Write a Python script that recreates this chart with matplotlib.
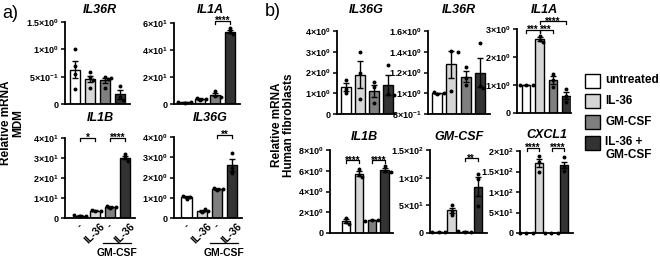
import matplotlib
matplotlib.use("Agg")
import matplotlib.pyplot as plt
from matplotlib.patches import Rectangle
from matplotlib.transforms import blended_transform_factory
import numpy as np

plt.rcParams['font.family'] = ['Liberation Sans', 'DejaVu Sans']
plt.rcParams['mathtext.fontset'] = 'custom'
plt.rcParams['mathtext.rm'] = 'Liberation Sans:bold'
plt.rcParams['mathtext.bf'] = 'Liberation Sans:bold'
plt.rcParams['mathtext.it'] = 'Liberation Sans:bold:italic'

# ---------------- data ----------------
groups = ["untreated", "IL-36", "GM-CSF", "IL-36 +\nGM-CSF"]
colors = ["#ffffff", "#d6d6d6", "#7f7f7f", "#333333"]
xlabels_a = ["-", "IL-36", "-", "IL-36"]

# panel a (MDM)
il36r_a_mean = [0.63, 0.46, 0.43, 0.18]
il36r_a_sem = [0.15, 0.06, 0.045, 0.08]
il36r_a_pts = [[1.0, 0.70, 0.54, 0.28], [0.58, 0.50, 0.44, 0.30], [0.49, 0.48, 0.45, 0.30], [0.33, 0.12, 0.08]]
il36r_a_ticks = [0, 0.5, 1.0, 1.5]
il36r_a_labels = ["0", "5×10$^{-1}$", "1×10$^{0}$", "1.5×10$^{0}$"]

il1a_a_mean = [1.3, 3.8, 7.0, 53.5]
il1a_a_sem = [0.3, 0.6, 1.2, 1.2]
il1a_a_pts = [[1.0, 1.4, 1.5], [3.0, 3.8, 4.6], [9.5, 6.0, 5.5], [56, 53, 52]]
il1a_a_ticks = [0, 20, 40, 60]
il1a_a_labels = ["0", "2×10$^{1}$", "4×10$^{1}$", "6×10$^{1}$"]

il1b_a_mean = [1.2, 3.7, 5.4, 30.2]
il1b_a_sem = [0.2, 0.3, 0.4, 0.9]
il1b_a_pts = [[1.0, 1.2, 1.4], [3.4, 3.7, 4.0], [5.0, 5.5, 5.8], [32, 30, 28.7]]
il1b_a_ticks = [0, 10, 20, 30, 40]
il1b_a_labels = ["0", "1×10$^{1}$", "2×10$^{1}$", "3×10$^{1}$", "4×10$^{1}$"]

il36g_a_mean = [1.02, 0.36, 1.43, 2.62]
il36g_a_sem = [0.05, 0.05, 0.03, 0.3]
il36g_a_pts = [[0.95, 1.05, 1.07], [0.30, 0.35, 0.42], [1.40, 1.43, 1.46], [3.2, 2.45, 2.2]]
il36g_a_ticks = [0, 1, 2, 3, 4]
il36g_a_labels = ["0", "1×10$^{0}$", "2×10$^{0}$", "3×10$^{0}$", "4×10$^{0}$"]

# panel b (human fibroblasts)
il36g_b_mean = [1.29, 1.90, 1.12, 1.41]
il36g_b_sem = [0.19, 0.67, 0.30, 0.49]
il36g_b_pts = [[1.65, 1.22, 1.0], [3.0, 2.0, 0.7], [1.53, 1.30, 0.55], [2.37, 0.95, 0.9]]
il36g_b_ticks = [0, 1, 2, 3, 4]
il36g_b_labels = ["0", "1×10$^{0}$", "2×10$^{0}$", "3×10$^{0}$", "4×10$^{0}$"]

il36r_b_mean = [1.0, 1.28, 1.16, 1.20]
il36r_b_sem = [0.005, 0.13, 0.05, 0.14]
il36r_b_pts = [[0.99, 1.0, 1.01], [1.41, 1.40, 1.02], [1.25, 1.15, 1.08], [1.48, 1.07, 1.05]]
il36r_b_ticks = [0.8, 1.0, 1.2, 1.4, 1.6]
il36r_b_labels = ["8×10$^{-1}$", "1×10$^{0}$", "1.2×10$^{0}$", "1.4×10$^{0}$", "1.6×10$^{0}$"]

il1a_b_mean = [1.0, 2.63, 1.17, 0.62]
il1a_b_sem = [0.01, 0.07, 0.14, 0.13]
il1a_b_pts = [[1.0, 1.0, 1.01], [2.75, 2.62, 2.52], [1.40, 1.17, 0.94], [0.86, 0.60, 0.40]]
il1a_b_ticks = [0, 1, 2, 3]
il1a_b_labels = ["0", "1×10$^{0}$", "2×10$^{0}$", "3×10$^{0}$"]

il1b_b_mean = [1.15, 5.7, 1.25, 6.1]
il1b_b_sem = [0.16, 0.25, 0.03, 0.2]
il1b_b_pts = [[1.45, 1.1, 0.9], [6.2, 5.6, 5.4], [1.3, 1.25, 1.2], [6.5, 6.0, 5.9]]
il1b_b_ticks = [0, 2, 4, 6, 8]
il1b_b_labels = ["0", "2×10$^{0}$", "4×10$^{0}$", "6×10$^{0}$", "8×10$^{0}$"]

gmcsf_b_mean = [2.0, 41, 2.5, 84]
gmcsf_b_sem = [0.5, 5, 0.5, 18]
gmcsf_b_pts = [[1.5, 2.0, 2.5], [51, 40, 33], [2.0, 2.5, 3.0], [107, 98, 48]]
gmcsf_b_ticks = [0, 50, 100, 150]
gmcsf_b_labels = ["0", "5×10$^{1}$", "1×10$^{2}$", "1.5×10$^{2}$"]

cxcl1_b_mean = [1.0, 170, 1.0, 166]
cxcl1_b_sem = [0.05, 10, 0.05, 8]
cxcl1_b_pts = [[1, 1, 1], [187, 173, 150], [1, 1, 1], [186, 162, 152]]
cxcl1_b_ticks = [0, 50, 100, 150, 200]
cxcl1_b_labels = ["0", "5×10$^{1}$", "1×10$^{2}$", "1.5×10$^{2}$", "2×10$^{2}$"]

# ---------------- layout ----------------
W, H = 660, 259
fig = plt.figure(figsize=(W / 100, H / 100), dpi=100)


def fx(x):
    return x / W


def fy(y):
    return 1 - y / H


def make_axes(x0, x1, ytop, ybot):
    return fig.add_axes([fx(x0), fy(ybot), (x1 - x0) / W, (ybot - ytop) / H])


def swarm(ax, xc, vals, dot_px=3.6):
    placed = []
    out = []
    for v in vals:
        py = ax.transData.transform((xc, v))[1]
        off = 0.0
        for k in [0, 1, -1, 2, -2, 3, -3]:
            cand = k * dot_px * 0.9
            ok = True
            for (ox, oy) in placed:
                if (ox - cand) ** 2 + (oy - py) ** 2 < (dot_px * 0.95) ** 2:
                    ok = False
                    break
            if ok:
                off = cand
                break
        placed.append((off, py))
        pxc = ax.transData.transform((xc, v))[0] + off
        out.append(ax.transData.inverted().transform((pxc, py))[0])
    return out


def draw_panel(ax, means, sems, pts, ticks, labels, xlim, width):
    x = np.arange(len(means))
    ax.set_xlim(*xlim)
    ax.set_ylim(ticks[0], ticks[-1])
    ax.bar(x, [m - ticks[0] for m in means], bottom=ticks[0], width=width,
           color=colors, edgecolor="black", linewidth=1.0, zorder=2)
    ax.errorbar(x, means, yerr=sems, fmt="none", ecolor="black",
                elinewidth=1.0, capsize=2.0, capthick=1.0, zorder=3)
    for i, p in enumerate(pts):
        xs = swarm(ax, x[i], p)
        ax.scatter(xs, p, s=8, color="black", zorder=4, linewidths=0, clip_on=False)
    for s in ["top", "right"]:
        ax.spines[s].set_visible(False)
    for s in ["left", "bottom"]:
        ax.spines[s].set_linewidth(1.3)
    ax.set_yticks(ticks)
    ax.set_yticklabels(labels, fontweight="bold", fontsize=6.5)
    ax.tick_params(axis="y", length=3, width=1.1, pad=1.5)
    ax.tick_params(axis="x", length=0)
    ax.set_xticks([])


def bracket(ax, i, j, y, text, drop_px=3.0, fs=7):
    y0, y1 = ax.get_ylim()
    hpx = ax.get_window_extent().height
    d = drop_px * (y1 - y0) / hpx
    ax.plot([i, i, j, j], [y - d, y, y, y - d], color="black", lw=0.9,
            clip_on=False, zorder=5)
    ax.annotate(text, xy=((i + j) / 2, y), xytext=(0, -2.2), textcoords="offset points",
                ha="center", va="baseline", fontsize=fs, fontweight="bold",
                annotation_clip=False)


def title(x, y, text):
    fig.text(fx(x), fy(y), text, ha="center", va="center", fontsize=9,
             fontweight="bold", fontstyle="italic")


# ---- panel a ----
ax1 = make_axes(65, 130, 22, 104)
draw_panel(ax1, il36r_a_mean, il36r_a_sem, il36r_a_pts, il36r_a_ticks, il36r_a_labels, (-0.67, 3.67), 0.67)
title(100, 10, "IL36R")

ax2 = make_axes(174, 240, 23, 104)
draw_panel(ax2, il1a_a_mean, il1a_a_sem, il1a_a_pts, il1a_a_ticks, il1a_a_labels, (-0.73, 3.67), 0.67)
bracket(ax2, 2, 3, 61.5, "****")
title(210, 10, "IL1A")

ax3 = make_axes(65, 135, 138, 218)
draw_panel(ax3, il1b_a_mean, il1b_a_sem, il1b_a_pts, il1b_a_ticks, il1b_a_labels, (-1.0, 3.67), 0.67)
bracket(ax3, 0, 1, 40, "*")
bracket(ax3, 2, 3, 40, "****")
title(100, 118, "IL1B")

ax4 = make_axes(174, 242, 137, 218)
draw_panel(ax4, il36g_a_mean, il36g_a_sem, il36g_a_pts, il36g_a_ticks, il36g_a_labels, (-0.83, 3.67), 0.67)
bracket(ax4, 2, 3, 4.1, "**")
title(210, 118, "IL36G")

for ax in (ax3, ax4):
    ax.set_xticks(range(4))
    ax.set_xticklabels(xlabels_a, rotation=45, ha="center", va="top",
                       fontsize=7.5, fontweight="bold")
    ax.tick_params(axis="x", length=0, pad=2.5)
    tr = blended_transform_factory(ax.transData, fig.transFigure)
    ax.plot([1.55, 3.4], [fy(243), fy(243)], color="black", lw=0.9,
            transform=tr, clip_on=False)
    ax.text(2.5, fy(253), "GM-CSF", transform=tr, ha="center", va="center",
            fontsize=7.5, fontweight="bold")

fig.text(0.004, fy(14), "a)", fontsize=13, ha="left", va="center")
fig.text(fx(12), fy(123), "Relative mRNA\nMDM", rotation=90, ha="center",
         va="center", fontsize=8.5, fontweight="bold", linespacing=1.0)

# ---- panel b ----
bx1 = make_axes(337, 395, 31, 114)
draw_panel(bx1, il36g_b_mean, il36g_b_sem, il36g_b_pts, il36g_b_ticks, il36g_b_labels, (-0.64, 3.5), 0.75)
title(366, 10, "IL36G")

bx2 = make_axes(428, 490, 31, 114)
draw_panel(bx2, il36r_b_mean, il36r_b_sem, il36r_b_pts, il36r_b_ticks, il36r_b_labels, (-0.63, 3.7), 0.72)
title(459, 10, "IL36R")

bx3 = make_axes(517, 571, 29, 113)
draw_panel(bx3, il1a_b_mean, il1a_b_sem, il1a_b_pts, il1a_b_ticks, il1a_b_labels, (-0.68, 3.35), 0.65)
bracket(bx3, 0, 1, 2.97, "***")
bracket(bx3, 1, 2, 2.97, "***")
bracket(bx3, 1, 3, 3.27, "****")
title(544, 10, "IL1A")

bx4 = make_axes(330, 393, 150, 233)
draw_panel(bx4, il1b_b_mean, il1b_b_sem, il1b_b_pts, il1b_b_ticks, il1b_b_labels, (-1.25, 3.65), 0.65)
bracket(bx4, 0, 1, 7.0, "****")
bracket(bx4, 2, 3, 7.0, "****")
title(364, 137, "IL1B")

bx5 = make_axes(430, 487, 150, 233)
draw_panel(bx5, gmcsf_b_mean, gmcsf_b_sem, gmcsf_b_pts, gmcsf_b_ticks, gmcsf_b_labels, (-0.65, 3.7), 0.65)
bracket(bx5, 2, 3, 135, "**")
title(459, 137, "GM-CSF")

bx6 = make_axes(520, 573, 151, 233)
draw_panel(bx6, cxcl1_b_mean, cxcl1_b_sem, cxcl1_b_pts, cxcl1_b_ticks, cxcl1_b_labels, (-0.52, 3.72), 0.62)
bracket(bx6, 0, 1, 207, "****")
bracket(bx6, 2, 3, 207, "****")
title(547, 135, "CXCL1")

fig.text(fx(273), fy(12), "b)", fontsize=13, ha="center", va="center")
fig.text(fx(283), fy(125), "Relative mRNA\nHuman fibroblasts", rotation=90,
         ha="center", va="center", fontsize=8.5, fontweight="bold", linespacing=1.0)

# ---- legend ----
leg_y = [80.5, 101, 121.5, 142.5]
for g, c, yc in zip(groups, colors, leg_y):
    fig.patches.append(Rectangle((fx(585), fy(yc + 7)), 15 / W, 14 / H,
                                 transform=fig.transFigure, facecolor=c,
                                 edgecolor="black", linewidth=1.0))
    if "\n" in g:
        fig.text(fx(605), fy(yc - 6.5), g, ha="left", va="top", fontsize=8.5,
                 fontweight="bold", linespacing=1.15)
    else:
        fig.text(fx(605), fy(yc), g, ha="left", va="center", fontsize=8.5,
                 fontweight="bold")

fig.savefig("out.png", dpi=100)
